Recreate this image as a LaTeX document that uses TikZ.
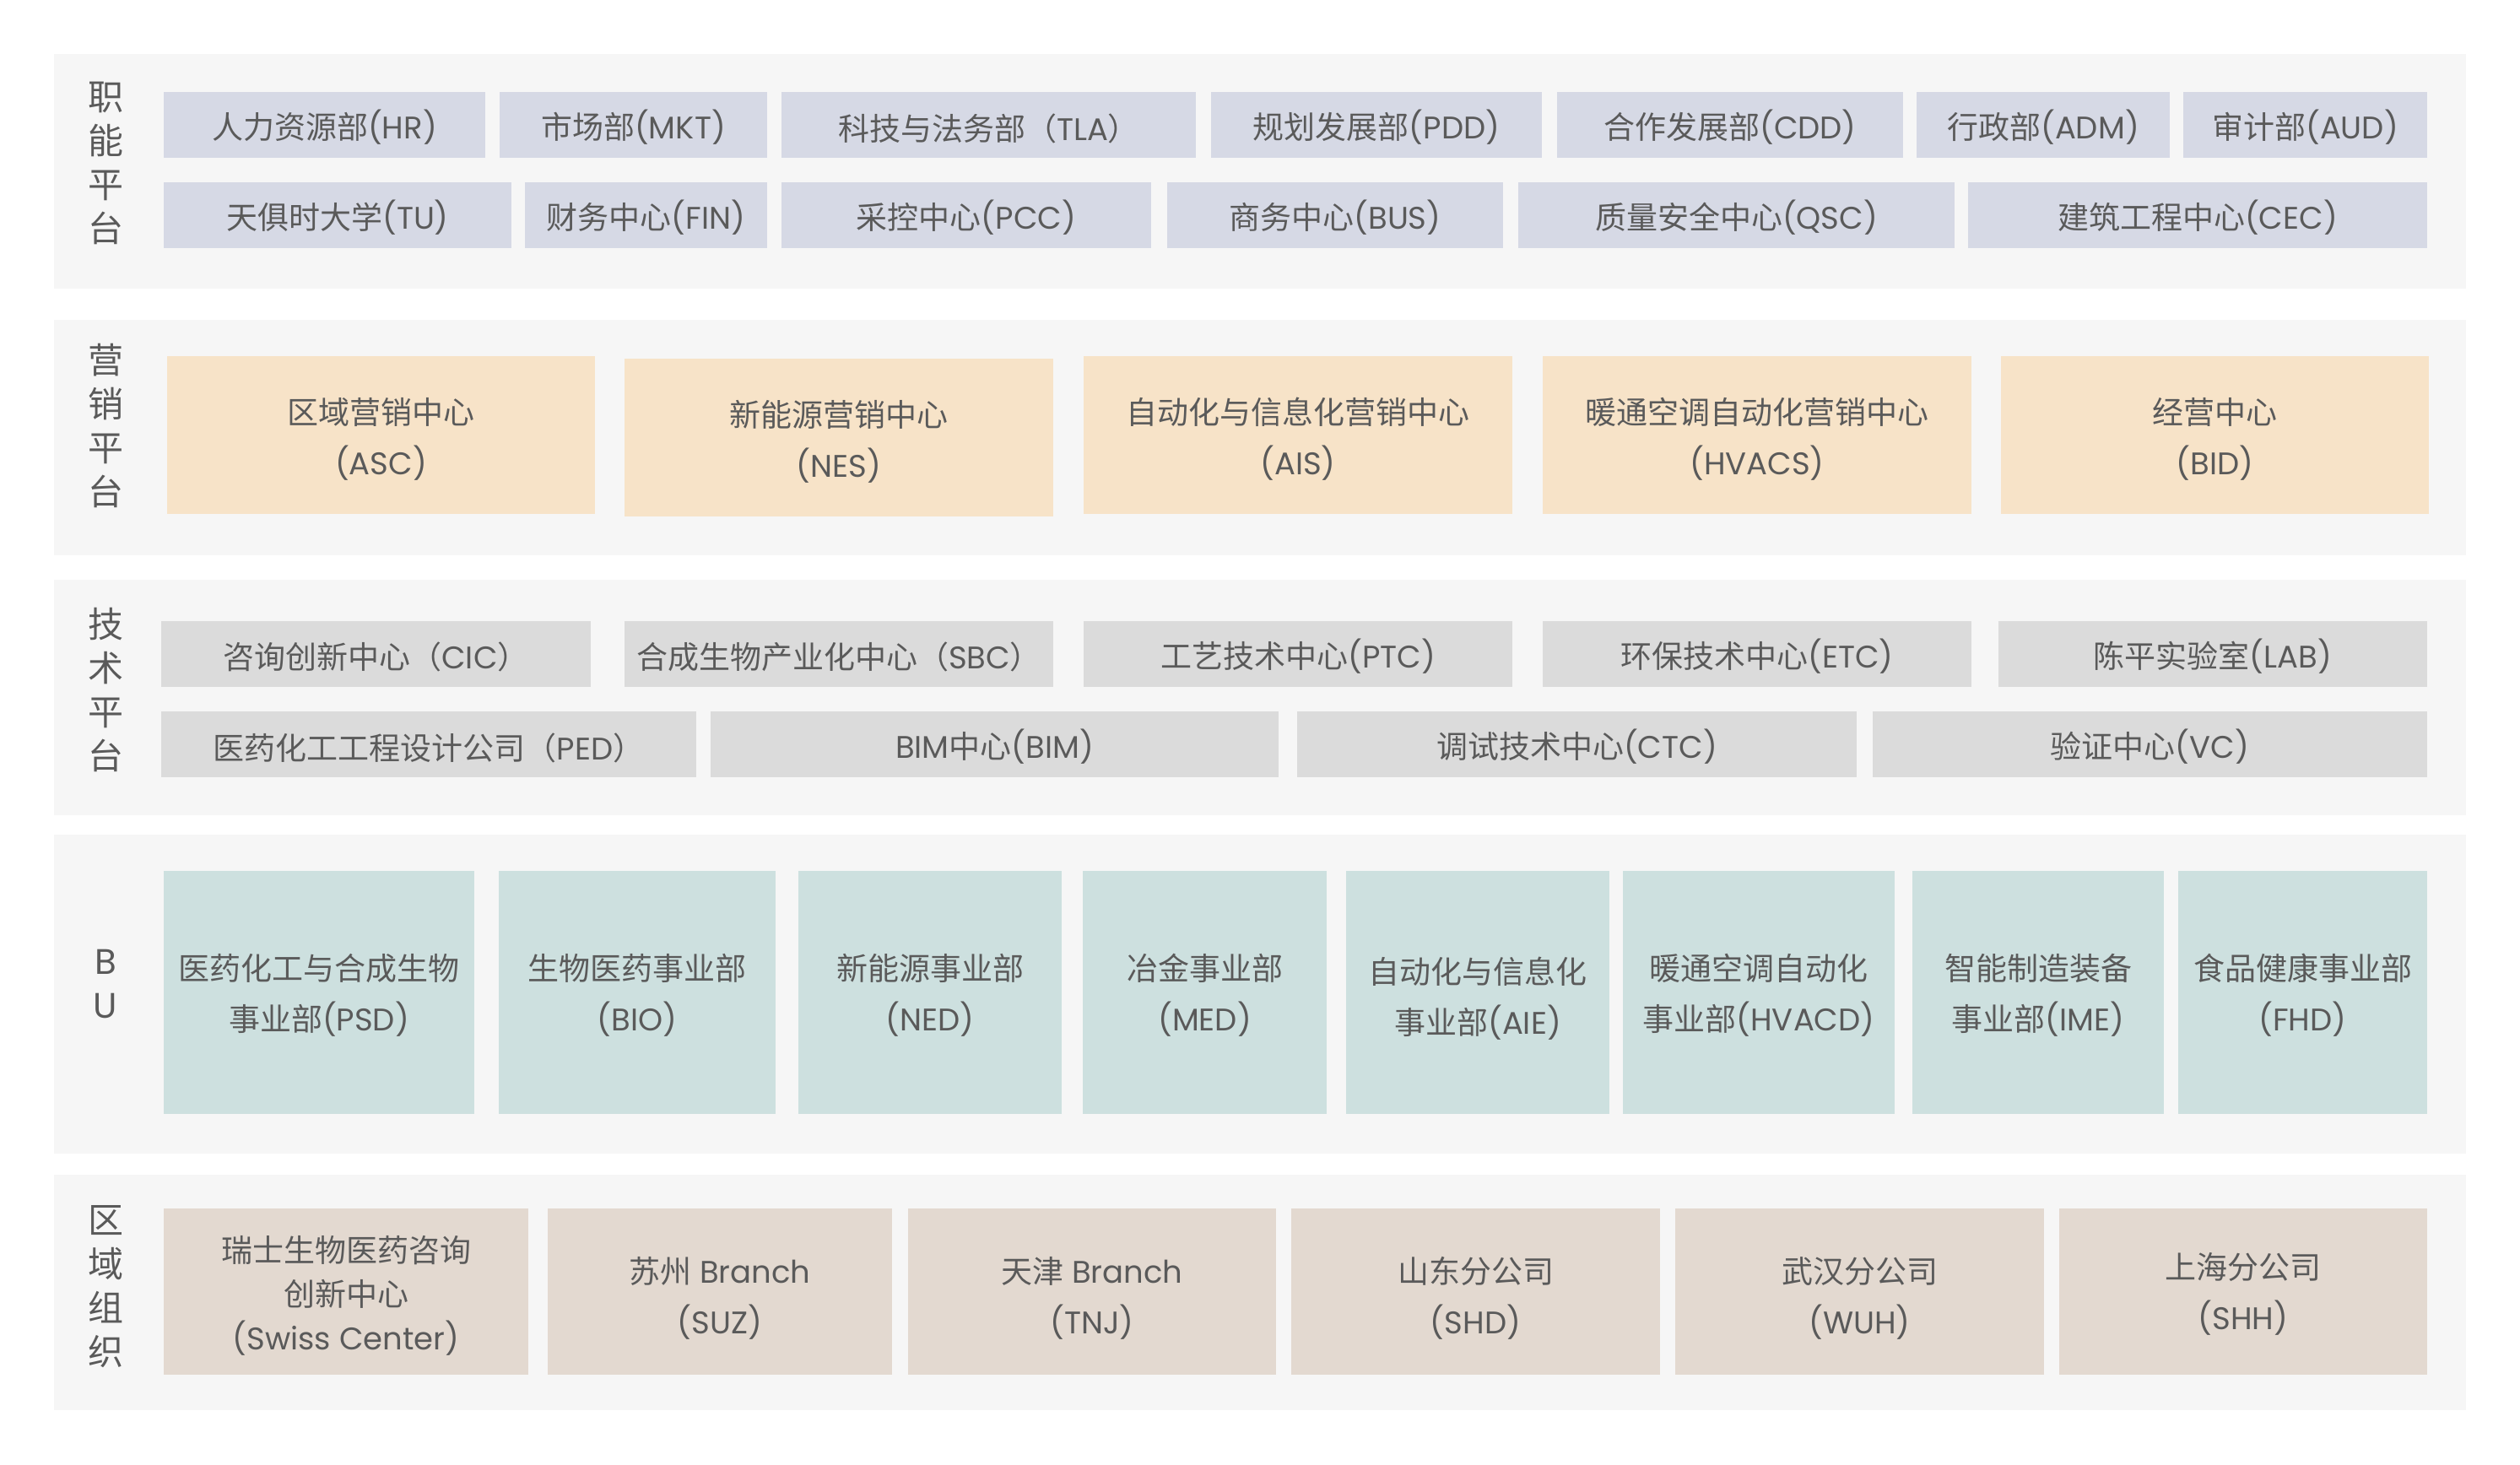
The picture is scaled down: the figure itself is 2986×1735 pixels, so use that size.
\documentclass[tikz,border=0pt]{standalone}
\usepackage{fontspec}
\setmainfont{Poppins}
\newfontfamily\cjkfont{Noto Sans CJK SC}
\usetikzlibrary{positioning}

% CJK characters switch to the CJK font, everything else stays Latin
\XeTeXinterchartokenstate=1
\newXeTeXintercharclass\cjkclass
\count255="3000
\loop\XeTeXcharclass\count255=\cjkclass
  \ifnum\count255<"9FFF\advance\count255 by 1\repeat
\count255="FF00
\loop\XeTeXcharclass\count255=\cjkclass
  \ifnum\count255<"FFEF\advance\count255 by 1\repeat
\XeTeXinterchartoks 0 \cjkclass = {\cjkfont}
\XeTeXinterchartoks 4095 \cjkclass = {\cjkfont}
\XeTeXinterchartoks \cjkclass 0 = {\normalfont}
\XeTeXinterchartoks \cjkclass 4095 = {\normalfont}

\definecolor{panelgray}{HTML}{F6F6F6}
\definecolor{funcblue}{HTML}{D6D9E5}
\definecolor{mktpeach}{HTML}{F7E3C8}
\definecolor{techgray}{HTML}{DBDBDB}
\definecolor{bugreen}{HTML}{CDE0DF}
\definecolor{regsand}{HTML}{E3D9D0}
\definecolor{textgray}{HTML}{5A5A5A}

\begin{document}
\begin{tikzpicture}[x=1pt,y=-1pt,
  text drop/.initial=40pt,
  panel/.style={rectangle,fill=panelgray,inner sep=0pt},
  box/.style={rectangle,inner sep=0pt,align=center,text=textgray,
    font=\fontsize{37}{60}\selectfont,
    execute at begin node={\rule{0pt}{\pgfkeysvalueof{/tikz/text drop}}}},
  func box/.style={box,fill=funcblue,minimum height=78pt,text drop=40pt},
  mkt box/.style={box,fill=mktpeach,minimum height=187pt,text drop=102pt},
  tech box/.style={box,fill=techgray,minimum height=78pt,text drop=40pt},
  bu box/.style={box,fill=bugreen,minimum height=288pt,text drop=98pt},
  reg box/.style={box,fill=regsand,minimum height=197pt,text drop=107pt},
  side label/.style={align=center,text=textgray,inner sep=0pt,
    font=\fontsize{42}{52}\selectfont}]

  \useasboundingbox[fill=white] (0,0) rectangle (2986,1735);

  % panels
  \node[panel, minimum width=2858pt, minimum height=278pt] (p1) at (1493,203) {};
  \node[panel, minimum width=2858pt, minimum height=279pt] (p2) at (1493,518.5) {};
  \node[panel, minimum width=2858pt, minimum height=279pt] (p3) at (1493,826.5) {};
  \node[panel, minimum width=2858pt, minimum height=378pt] (p4) at (1493,1178) {};
  \node[panel, minimum width=2858pt, minimum height=279pt] (p5) at (1493,1531.5) {};

  \node[side label] (l1) at (125,193.5) {职\\能\\平\\台};
  \node[side label] (l2) at (125,505) {营\\销\\平\\台};
  \node[side label] (l3) at (125,817.5) {技\\术\\平\\台};
  \node[side label] (l4) at (125,1166) {B\\U};
  \node[side label] (l5) at (125,1524.5) {区\\域\\组\\织};

  % functional platform
  \node[func box, minimum width=381pt] (hr) at (384.5,148) {人力资源部(HR)};
  \node[func box, minimum width=317pt] (mkt) at (750.5,148) {市场部(MKT)};
  \node[func box, minimum width=491pt] (tla) at (1171.5,148) {科技与法务部（TLA）};
  \node[func box, minimum width=392pt] (pdd) at (1631,148) {规划发展部(PDD)};
  \node[func box, minimum width=410pt] (cdd) at (2050,148) {合作发展部(CDD)};
  \node[func box, minimum width=300pt] (adm) at (2421,148) {行政部(ADM)};
  \node[func box, minimum width=289pt] (aud) at (2731.5,148) {审计部(AUD)};

  \node[func box, minimum width=412pt] (tu) at (400,254.5) {天俱时大学(TU)};
  \node[func box, minimum width=287pt] (fin) at (765.5,254.5) {财务中心(FIN)};
  \node[func box, minimum width=438pt] (pcc) at (1145,254.5) {采控中心(PCC)};
  \node[func box, minimum width=398pt] (bus) at (1582,254.5) {商务中心(BUS)};
  \node[func box, minimum width=517pt] (qsc) at (2057.5,254.5) {质量安全中心(QSC)};
  \node[func box, minimum width=544pt] (cec) at (2604,254.5) {建筑工程中心(CEC)};

  % marketing platform
  \node[mkt box, minimum width=507pt] (asc) at (451.5,515) {区域营销中心\\(ASC)};
  \node[mkt box, minimum width=508pt] (nes) at (994,518) {新能源营销中心\\(NES)};
  \node[mkt box, minimum width=508pt] (ais) at (1538,515) {自动化与信息化营销中心\\(AIS)};
  \node[mkt box, minimum width=508pt] (hvacs) at (2082,515) {暖通空调自动化营销中心\\(HVACS)};
  \node[mkt box, minimum width=507pt] (bid) at (2624.5,515) {经营中心\\(BID)};

  % technology platform
  \node[tech box, minimum width=509pt] (cic) at (445.5,774.5) {咨询创新中心（CIC）};
  \node[tech box, minimum width=508pt] (sbc) at (994,774.5) {合成生物产业化中心（SBC）};
  \node[tech box, minimum width=508pt] (ptc) at (1538,774.5) {工艺技术中心(PTC)};
  \node[tech box, minimum width=508pt] (etc) at (2082,774.5) {环保技术中心(ETC)};
  \node[tech box, minimum width=508pt] (lab) at (2622,774.5) {陈平实验室(LAB)};

  \node[tech box, minimum width=634pt] (ped) at (508,882) {医药化工工程设计公司（PED）};
  \node[tech box, minimum width=673pt] (bim) at (1178.5,882) {BIM中心(BIM)};
  \node[tech box, minimum width=663pt] (ctc) at (1868.5,882) {调试技术中心(CTC)};
  \node[tech box, minimum width=657pt] (vc) at (2547.5,882) {验证中心(VC)};

  % business units
  \node[bu box, minimum width=368pt] (psd) at (378,1176) {医药化工与合成生物\\事业部(PSD)};
  \node[bu box, minimum width=328pt] (bio) at (755,1176) {生物医药事业部\\(BIO)};
  \node[bu box, minimum width=312pt] (ned) at (1102,1176) {新能源事业部\\(NED)};
  \node[bu box, minimum width=289pt] (med) at (1427.5,1176) {冶金事业部\\(MED)};
  \node[bu box, minimum width=312pt, text drop=106pt] (aie) at (1751,1176) {自动化与信息化\\事业部(AIE)};
  \node[bu box, minimum width=322pt] (hvacd) at (2084,1176) {暖通空调自动化\\事业部(HVACD)};
  \node[bu box, minimum width=298pt] (ime) at (2415,1176) {智能制造装备\\事业部(IME)};
  \node[bu box, minimum width=295pt] (fhd) at (2728.5,1176) {食品健康事业部\\(FHD)};

  % regional organisation
  \node[reg box, minimum width=432pt, text drop=144pt, font=\fontsize{37}{52}\selectfont] (swiss) at (410,1530.5) {瑞士生物医药咨询\\创新中心\\(Swiss Center)};
  \node[reg box, minimum width=408pt] (suz) at (853,1530.5) {苏州 Branch\\(SUZ)};
  \node[reg box, minimum width=436pt] (tnj) at (1294,1530.5) {天津 Branch\\(TNJ)};
  \node[reg box, minimum width=437pt] (shd) at (1748.5,1530.5) {山东分公司\\(SHD)};
  \node[reg box, minimum width=437pt] (wuh) at (2203.5,1530.5) {武汉分公司\\(WUH)};
  \node[reg box, minimum width=436pt, text drop=96pt] (shh) at (2658,1530.5) {上海分公司\\(SHH)};
\end{tikzpicture}
\end{document}
